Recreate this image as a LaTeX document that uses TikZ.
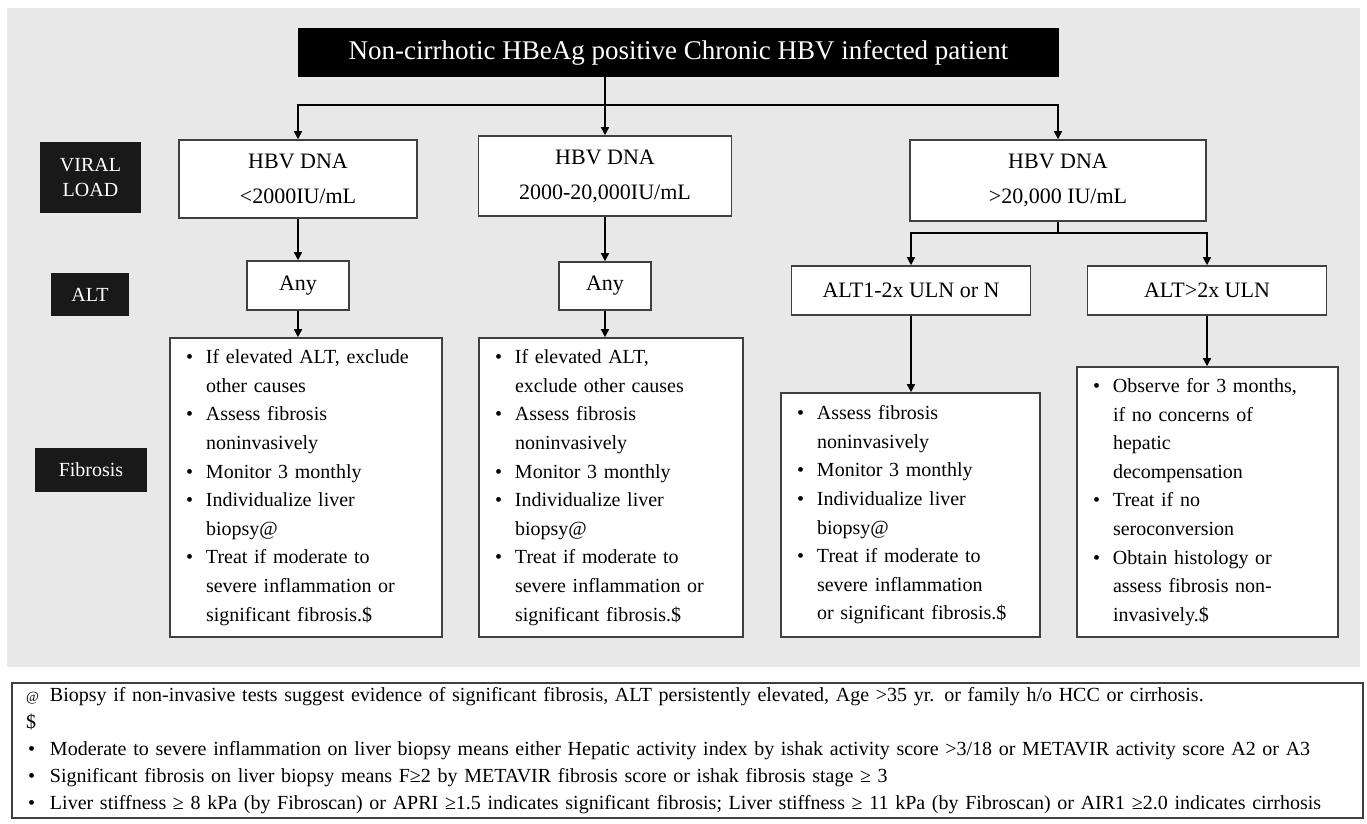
\documentclass[tikz,border=0pt]{standalone}
\usepackage{fontspec}
\setmainfont{Liberation Serif}
\usetikzlibrary{arrows.meta}

\begin{document}
\begin{tikzpicture}[
    x=1pt, y=-1pt,
    box/.style={draw=black!75, line width=1.6pt, fill=white, inner sep=0pt, align=center},
    tag/.style={fill=black!90, text=white, inner sep=0pt, align=center, font=\fontsize{20}{25}\selectfont},
    hbv/.style={box, font=\fontsize{22}{35}\selectfont},
    alt/.style={box, font=\fontsize{22}{26}\selectfont},
    fib/.style={box, align=left, inner xsep=16pt, font=\fontsize{20}{28.6}\selectfont},
    arr/.style={-{Triangle[length=8pt,width=8pt]}, line width=1.5pt},
    fork/.style={{Triangle[length=8pt,width=8pt]}-{Triangle[length=8pt,width=8pt]}, line width=1.5pt}
]

\def\bitem{\makebox[20pt][l]{\textbullet}}   % bullet of a list line
\def\bcont{\hspace*{20pt}}                   % follow-on line

\useasboundingbox (0,0) rectangle (1367,823);
\fill[black!9] (7,8) rectangle (1360,667);

% head of the chart
\node[fill=black, text=white, minimum width=761pt, minimum height=49pt, inner sep=0pt,
    font=\fontsize{27}{30}\selectfont] (title) at (678.5,52.5)
    {Non-cirrhotic HBeAg positive Chronic HBV infected patient};

% row labels
\node[tag, minimum width=101pt, minimum height=71pt] (lblload) at (90.5,177.5) {VIRAL\\LOAD};
\node[tag, minimum width=78pt, minimum height=43pt] (lblalt) at (90,294.5) {ALT};
\node[tag, minimum width=112pt, minimum height=44pt] (lblfib) at (91,470) {Fibrosis};

% viral load
\node[hbv, minimum width=238pt, minimum height=78pt] (hbvlow) at (298,179) {HBV DNA\\<2000IU/mL};
\node[hbv, minimum width=253pt, minimum height=80pt] (hbvmid) at (605,176) {HBV DNA\\2000-20,000IU/mL};
\node[hbv, minimum width=296pt, minimum height=81pt] (hbvhigh) at (1058,180.5) {HBV DNA\\>20,000 IU/mL};

% alt
\node[alt, minimum width=102pt, minimum height=49pt] (anylow) at (298,285.5) {Any};
\node[alt, minimum width=92pt, minimum height=48pt] (anymid) at (605,286) {Any};
\node[alt, minimum width=239pt, minimum height=49pt] (altmid) at (911,290.5) {ALT1-2x ULN or N};
\node[alt, minimum width=239pt, minimum height=49pt] (althigh) at (1207,290.5) {ALT>2x ULN};

% fibrosis
\node[fib, text width=240pt, minimum height=299pt] (fiblow) at (306,487.5) {%
    \bitem If elevated ALT, exclude\\
    \bcont other causes\\
    \bitem Assess fibrosis\\
    \bcont noninvasively\\
    \bitem Monitor 3 monthly\\
    \bitem Individualize liver\\
    \bcont biopsy@\\
    \bitem Treat if moderate to\\
    \bcont severe inflammation or\\
    \bcont significant fibrosis.\$};
\node[fib, text width=232pt, minimum height=299pt] (fibmid) at (611,487.5) {%
    \bitem If elevated ALT,\\
    \bcont exclude other causes\\
    \bitem Assess fibrosis\\
    \bcont noninvasively\\
    \bitem Monitor 3 monthly\\
    \bitem Individualize liver\\
    \bcont biopsy@\\
    \bitem Treat if moderate to\\
    \bcont severe inflammation or\\
    \bcont significant fibrosis.\$};
\node[fib, text width=227pt, minimum height=244pt] (fibalt) at (910.5,515) {%
    \bitem Assess fibrosis\\
    \bcont noninvasively\\
    \bitem Monitor 3 monthly\\
    \bitem Individualize liver\\
    \bcont biopsy@\\
    \bitem Treat if moderate to\\
    \bcont severe inflammation\\
    \bcont or significant fibrosis.\$};
\node[fib, text width=229pt, minimum height=270pt] (fibhigh) at (1207.5,502) {%
    \bitem Observe for 3 months,\\
    \bcont if no concerns of\\
    \bcont hepatic\\
    \bcont decompensation\\
    \bitem Treat if no\\
    \bcont seroconversion\\
    \bitem Obtain histology or\\
    \bcont assess fibrosis non-\\
    \bcont invasively.\$};

% notes under the chart
\node[box, align=left, inner xsep=14pt, text width=1323pt, minimum height=135pt,
    font=\fontsize{20}{27}\selectfont] (notes) at (687.5,750.5) {%
    \makebox[24pt][l]{\fontsize{14}{14}\selectfont @}Biopsy if non-invasive tests suggest evidence of significant fibrosis, ALT persistently elevated, Age >35 yr. or family h/o HCC or cirrhosis.\\
    \$\\
    \makebox[24pt][l]{\hspace{2pt}\textbullet}Moderate to severe inflammation on liver biopsy means either Hepatic activity index by ishak activity score >3/18 or METAVIR activity score A2 or A3\\
    \makebox[24pt][l]{\hspace{2pt}\textbullet}Significant fibrosis on liver biopsy means F≥2 by METAVIR fibrosis score or ishak fibrosis stage ≥ 3\\
    \makebox[24pt][l]{\hspace{2pt}\textbullet}Liver stiffness ≥ 8 kPa (by Fibroscan) or APRI ≥1.5 indicates significant fibrosis; Liver stiffness ≥ 11 kPa (by Fibroscan) or AIR1 ≥2.0 indicates cirrhosis};

\coordinate (split) at (605,105);
\coordinate (splithigh) at (1058,233);

\draw[arr] (title.south -| hbvmid.north) -- (hbvmid.north);
\draw[fork] (hbvlow.north) |- (split) -| (hbvhigh.north);

\draw[arr] (hbvlow.south) -- (anylow.north);
\draw[arr] (anylow.south) -- (anylow.south |- fiblow.north);
\draw[arr] (hbvmid.south) -- (anymid.north);
\draw[arr] (anymid.south) -- (anymid.south |- fibmid.north);

\draw[line width=1.5pt] (hbvhigh.south) -- (splithigh);
\draw[fork] (altmid.north) |- (splithigh) -| (althigh.north);
\draw[arr] (altmid.south) -- (altmid.south |- fibalt.north);
\draw[arr] (althigh.south) -- (althigh.south |- fibhigh.north);
\end{tikzpicture}
\end{document}
